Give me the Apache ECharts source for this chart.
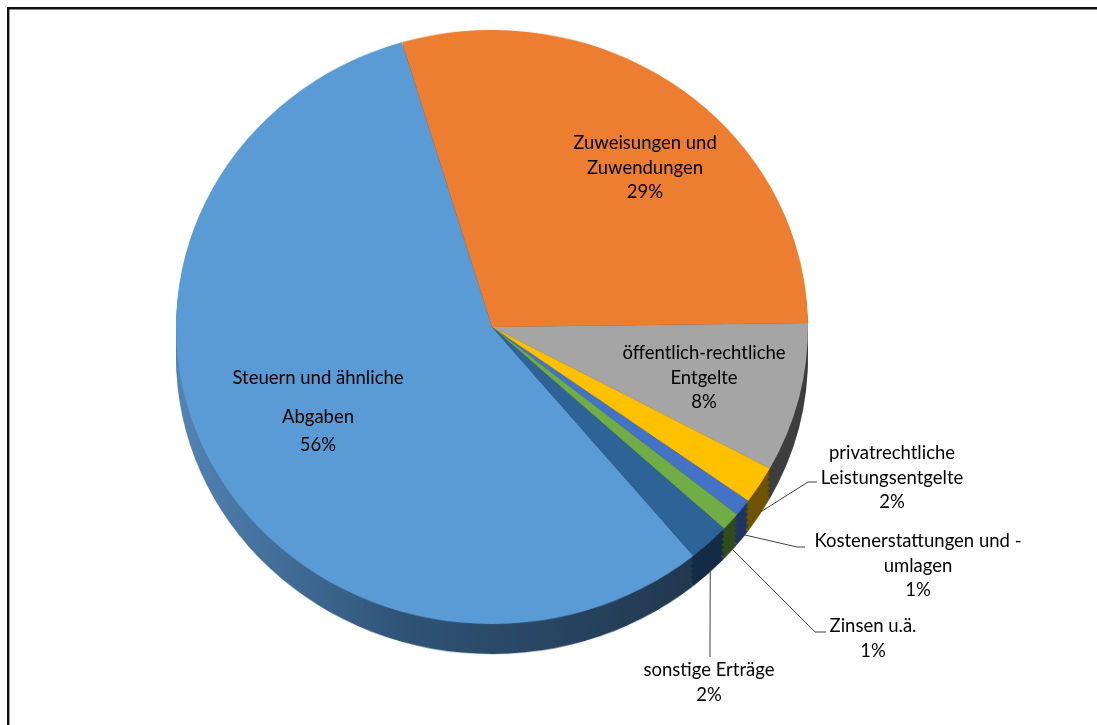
<!DOCTYPE html>
<html>
<head>
<meta charset="utf-8">
<script src="https://cdn.jsdelivr.net/npm/echarts@6/dist/echarts.min.js"></script>
<style>
  html, body { margin: 0; padding: 0; background: #ffffff; }
  #wrap { position: relative; width: 1097px; height: 725px; overflow: hidden; background: #fff; }
  #pie { position: absolute; left: 0; top: 0; width: 1097px; height: 725px; transform: scaleY(0.94); transform-origin: 0 327px; }
  #labels { position: absolute; left: 0; top: 0; width: 1097px; height: 725px; }
</style>
</head>
<body>
<div id="wrap">
  <div id="pie"></div>
  <div id="labels"></div>
</div>
<script>
// ---- data ----
const categories = [
  'Steuern und ähnliche Abgaben',
  'Zuweisungen und Zuwendungen',
  'öffentlich-rechtliche Entgelte',
  'privatrechtliche Leistungsentgelte',
  'Kostenerstattungen und -umlagen',
  'Zinsen u.ä.',
  'sonstige Erträge'
];
const labelTexts = [
  'Steuern und ähnliche\nAbgaben',
  'Zuweisungen und\nZuwendungen',
  'öffentlich-rechtliche\nEntgelte',
  'privatrechtliche\nLeistungsentgelte',
  'Kostenerstattungen und -\numlagen',
  'Zinsen u.ä.',
  'sonstige Erträge'
];
const values = [56.4, 29.4, 8.1, 2.05, 0.92, 1.0, 2.13];

// ---- styling ----
const faceColors = ['#5B9BD5', '#ED7D31', '#A5A5A5', '#FFC000', '#4472C4', '#70AD47', '#2D6396'];
const sideColors = [
  { type: 'linear', x: 0, y: 0, x2: 1, y2: 0, colorStops: [
      { offset: 0, color: '#5284B5' }, { offset: 0.45, color: '#2F5275' }, { offset: 1, color: '#22384F' } ] },
  '#7A3E14', '#3E3E3E', '#6E5300', '#1F3461', '#2F4B1F', '#132B44'
];
const CX = 492, CY = 327, R = 316, SCALE_Y = 0.94;
const START = -50.4;
const depthLayers = [32, 26, 20, 14, 8, 4];

// label placement (layout only): block centre x, block top y, leader elbow/end
const labelLayoutCfg = [
  { x: 318, y: 353, line: null },
  { x: 645, y: 131, line: null },
  { x: 704, y: 341, line: null },
  { x: 892, y: 441, line: [[808, 482], [817, 482]] },
  { x: 918, y: 529, line: [[797, 547], [805, 547]] },
  { x: 873, y: 614, line: [[815, 632], [826, 632]] },
  { x: 709, y: 658, line: [[710, 640], [710, 657]] }
];

// ---- pie (faces + sides), vertically squashed to an ellipse ----
const pieChart = echarts.init(document.getElementById('pie'), null, { renderer: 'canvas' });
const pieSeries = [];
depthLayers.forEach(function (d) {
  pieSeries.push({
    type: 'pie', z: 1, silent: true, clockwise: true, startAngle: START,
    center: [CX, CY + d], radius: R, label: { show: false }, labelLine: { show: false },
    emphasis: { disabled: true }, animation: false,
    data: values.map(function (v, i) { return { name: categories[i], value: v, itemStyle: { color: sideColors[i], borderWidth: 0 } }; })
  });
});
pieSeries.push({
  type: 'pie', z: 3, silent: true, clockwise: true, startAngle: START,
  center: [CX, CY], radius: R, label: { show: false }, labelLine: { show: false },
  emphasis: { disabled: true }, animation: false,
  data: values.map(function (v, i) { return { name: categories[i], value: v, itemStyle: { color: faceColors[i], borderWidth: 0 } }; })
});
pieChart.setOption({ animation: false, series: pieSeries });

// ---- labels overlay ----
const labelChart = echarts.init(document.getElementById('labels'), null, { renderer: 'canvas' });
labelChart.setOption({
  animation: false,
  backgroundColor: 'transparent',
  graphic: [{
    type: 'rect', silent: true, z: 100,
    shape: { x: 8.2, y: 8.2, width: 1300, height: 900 },
    style: { fill: 'none', stroke: '#111', lineWidth: 2.4 }
  }],
  series: [{
    type: 'pie', silent: true, clockwise: true, startAngle: START,
    center: [CX, CY], radius: R, avoidLabelOverlap: false,
    emphasis: { disabled: true },
    itemStyle: { color: 'rgba(0,0,0,0)' },
    label: {
      show: true, position: 'outside', color: '#000',
      fontFamily: 'Lato', fontSize: 18.5, lineHeight: 24.5, align: 'center',
      formatter: function (p) {
        const pct = Math.round(p.percent) + '%';
        if (p.dataIndex === 0) {
          const parts = labelTexts[0].split('\n');
          return '{g|' + parts[0] + '}\n{h|' + parts[1] + '}\n{h|' + pct + '}';
        }
        return labelTexts[p.dataIndex] + '\n' + pct;
      },
      rich: {
        g: { fontFamily: 'Lato', fontSize: 18.5, lineHeight: 50, color: '#000' },
        h: { fontFamily: 'Lato', fontSize: 18.5, lineHeight: 28, color: '#000' }
      }
    },
    labelLine: { show: true, lineStyle: { color: '#404040', width: 1 } },
    labelLayout: function (params) {
      const cfg = labelLayoutCfg[params.dataIndex];
      const out = { x: cfg.x, y: cfg.y, align: 'center', verticalAlign: 'top' };
      if (cfg.line && params.labelLinePoints) {
        const s = params.labelLinePoints[0];
        const sx = s[0] + 1;
        const sy = CY + (s[1] - CY) * SCALE_Y + 27;
        out.labelLinePoints = [[sx, sy], cfg.line[0], cfg.line[1]];
      }
      return out;
    },
    data: values.map(function (v, i) {
      return {
        name: categories[i], value: v,
        labelLine: { show: !!labelLayoutCfg[i].line }
      };
    })
  }]
});
</script>
</body>
</html>
